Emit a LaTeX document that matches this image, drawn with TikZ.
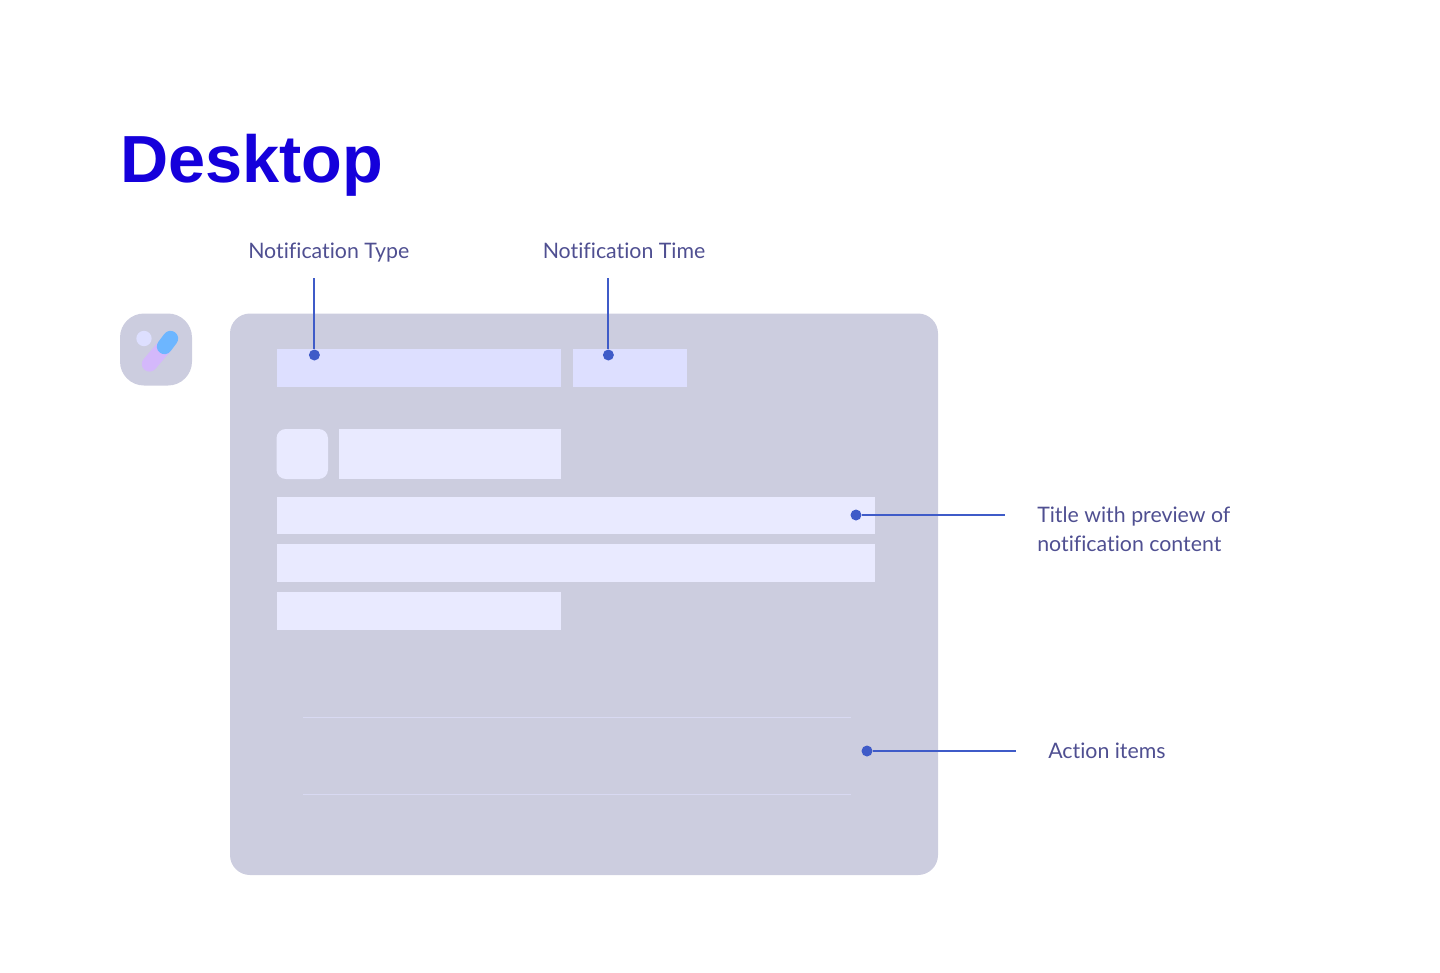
\documentclass[tikz,border=0pt]{standalone}
\usepackage{fontspec}
\setmainfont{Lato}[Ligatures=NoCommon]
\newfontfamily\titlefont{Liberation Sans}
\usetikzlibrary{positioning,calc}

\definecolor{panelgray}{HTML}{CCCDDF}
\definecolor{fieldblue}{HTML}{DDDFFF}
\definecolor{fieldpale}{HTML}{E9EAFF}
\definecolor{ruleblue}{HTML}{D8D9F2}
\definecolor{leadblue}{HTML}{3F5BC8}
\definecolor{labelblue}{HTML}{4F4F91}
\definecolor{titleblue}{HTML}{1500DB}
\definecolor{dotpale}{HTML}{DDDFFF}
\definecolor{pilllilac}{HTML}{D4B8FB}
\definecolor{pillsky}{HTML}{6DB6FF}

\tikzset{
    box/.style 2 args={inner sep=0, outer sep=0, anchor=north west, minimum width=#1*0.75pt, minimum height=#2*0.75pt},
    field/.style={fill=fieldblue},
    pale/.style={fill=fieldpale},
    dot/.style={circle, fill=leadblue, inner sep=0, minimum size=8.25pt},
    lead/.style={draw=leadblue, line width=1.6pt},
    label/.style={text=labelblue, font=\fontsize{16}{22}\selectfont, inner sep=0, anchor=base west, align=left}
}

\begin{document}
\begin{tikzpicture}[x=0.75pt, y=-0.75pt]
    \useasboundingbox (0,0) rectangle (1440,972);

    \node[inner sep=0, anchor=base west, text=titleblue, font=\titlefont\bfseries\fontsize{50}{60}\selectfont] (title) at (120,182) {Desktop};

    % icon
    \node[box={72}{72}, fill=panelgray, rounded corners=18pt] (icon) at (120,313.5) {};
    \node[circle, fill=dotpale, inner sep=0, minimum size=11.5pt] (icondot) at (144,338.5) {};
    \coordinate (pilla) at (149.5,364);
    \coordinate (pillb) at (164.5,346.5);
    \coordinate (pillc) at (170.5,338.5);
    \draw[pilllilac, line width=11.5pt, line cap=round] (pilla) -- (pillb);
    \draw[pillsky, line width=11.5pt, line cap=round] (pillb) -- (pillc);

    % panel and fields
    \node[box={708}{561.5}, fill=panelgray, rounded corners=15pt] (panel) at (230,313.5) {};
    \node[box={284.5}{38}, field] (typefield) at (276.5,348.5) {};
    \node[box={114.5}{38}, field] (timefield) at (572.5,348.5) {};
    \node[box={51.5}{50}, pale, rounded corners=7pt] (thumb) at (276.5,429) {};
    \node[box={222}{50}, pale] (name) at (339,429) {};
    \node[box={598.5}{37.5}, pale] (rowa) at (276.5,496.5) {};
    \node[box={598.5}{38}, pale] (rowb) at (276.5,544) {};
    \node[box={284.5}{38}, pale] (rowc) at (276.5,591.5) {};

    % action rules
    \coordinate (rulea) at (302.5,717);
    \coordinate (ruleb) at (850.5,717);
    \coordinate (rulec) at (302.5,794.5);
    \coordinate (ruled) at (850.5,794.5);
    \draw[ruleblue, line width=0.75pt] (rulea) -- (ruleb);
    \draw[ruleblue, line width=0.75pt] (rulec) -- (ruled);

    % labels
    \node[label] (typelabel) at (248,258) {Notification Type};
    \node[label] (timelabel) at (542.5,258) {Notification Time};
    \node[label] (titlelabel) at (1037,551.5) {Title with preview of\\notification content};
    \node[label] (actionlabel) at (1048,758) {Action items};

    % leaders
    \node[dot] (typedot) at (314.4,355) {};
    \node[dot] (timedot) at (608.4,355) {};
    \node[dot] (titledot) at (856,515) {};
    \node[dot] (actiondot) at (867,751) {};
    \coordinate (typeend) at (314.4,278);
    \coordinate (timeend) at (608.4,278);
    \coordinate (titleend) at (1005,515);
    \coordinate (actionend) at (1016,751);
    \draw[lead] (typeend) -- (typedot);
    \draw[lead] (timeend) -- (timedot);
    \draw[lead] (titledot) -- (titleend);
    \draw[lead] (actiondot) -- (actionend);
\end{tikzpicture}
\end{document}
